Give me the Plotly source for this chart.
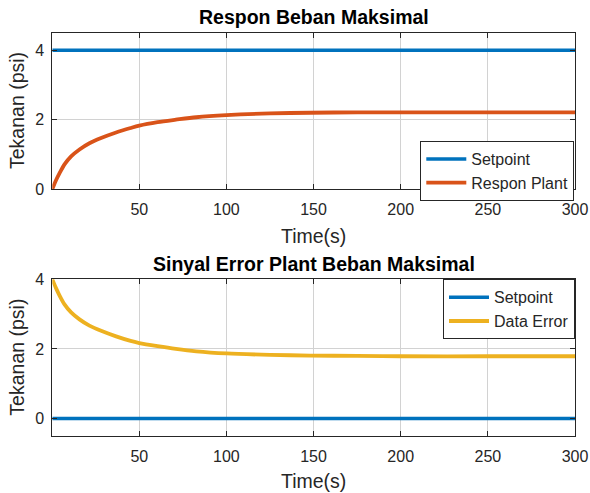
import plotly.graph_objects as go

# Time samples (s) and measured responses
t_resp = [0.1, 1, 2.3, 4.2, 7.1, 10.9, 15.7, 21.4, 28.1, 36.7, 45, 50, 60.5, 71, 82.7, 100, 125, 148, 175, 200, 250, 300]
respon_plant = [0.0, 0.11, 0.26, 0.45, 0.71, 0.94, 1.14, 1.32, 1.47, 1.63, 1.76, 1.83, 1.93, 2.00, 2.07, 2.13, 2.18, 2.20, 2.21, 2.21, 2.21, 2.21]

t_err = [0.1, 1, 2.3, 4.2, 7.1, 10.9, 15.7, 21.4, 28.1, 36.7, 45, 50, 60.5, 71, 82.7, 100, 125, 148, 175, 200, 250, 300]
data_error = [4.0, 3.89, 3.74, 3.54, 3.28, 3.05, 2.85, 2.67, 2.52, 2.36, 2.23, 2.17, 2.08, 2.00, 1.93, 1.87, 1.83, 1.81, 1.80, 1.79, 1.79, 1.79]

t_sp = [0.1, 300]
setpoint_top = [4, 4]
setpoint_bottom = [0, 0]

x_ticks = [50, 100, 150, 200, 250, 300]
y_ticks = [0, 2, 4]

BLUE = "#0072BD"
ORANGE = "#D95319"
YELLOW = "#EDB120"
INK = "#262626"
GRID = "#d2d2d2"
FONT = "Liberation Sans, Arial, sans-serif"

W, H = 590, 493
# axes boxes in pixels: (left, right, top, bottom)
top_box = (52.3, 575, 33, 189)
bot_box = (52.3, 575, 279.3, 436)


def dom_x(b):
    return [b[0] / W, b[1] / W]


def dom_y(b):
    return [1 - b[3] / H, 1 - b[2] / H]


fig = go.Figure()
fig.add_trace(go.Scatter(x=t_sp, y=setpoint_top, mode="lines", name="Setpoint",
                         line=dict(color=BLUE, width=3.5), xaxis="x", yaxis="y", legend="legend"))
fig.add_trace(go.Scatter(x=t_resp, y=respon_plant, mode="lines", name="Respon Plant",
                         line=dict(color=ORANGE, width=3.8, shape="spline", smoothing=0.8),
                         xaxis="x", yaxis="y", legend="legend"))
fig.add_trace(go.Scatter(x=t_sp, y=setpoint_bottom, mode="lines", name="Setpoint",
                         line=dict(color=BLUE, width=3.5), xaxis="x2", yaxis="y2", legend="legend2"))
fig.add_trace(go.Scatter(x=t_err, y=data_error, mode="lines", name="Data Error",
                         line=dict(color=YELLOW, width=3.8, shape="spline", smoothing=0.8),
                         xaxis="x2", yaxis="y2", legend="legend2"))

axis_common = dict(
    showline=True, linecolor=INK, linewidth=1, mirror="allticks",
    ticks="inside", ticklen=5, tickcolor=INK, tickwidth=1,
    showgrid=True, gridcolor=GRID, gridwidth=1, zeroline=False,
    automargin=False,
    tickfont=dict(family=FONT, size=16, color=INK),
)

legend_common = dict(
    xanchor="right", yanchor="top",
    bgcolor="white", bordercolor=INK, borderwidth=1,
    font=dict(family=FONT, size=16, color=INK), tracegroupgap=0,
    itemwidth=40,
)

fig.update_layout(
    template="none",
    width=W, height=H,
    margin=dict(l=0, r=0, t=0, b=0, autoexpand=False),
    paper_bgcolor="white", plot_bgcolor="white",
    font=dict(family=FONT, color=INK),
    xaxis=dict(domain=dom_x(top_box), anchor="y", range=[0.1, 300], tickvals=x_ticks,
               ticklabelstandoff=6, **axis_common),
    yaxis=dict(domain=dom_y(top_box), anchor="x", range=[0, 4.5], tickvals=y_ticks,
               ticklabelstandoff=4, **axis_common),
    xaxis2=dict(domain=dom_x(bot_box), anchor="y2", range=[0.1, 300], tickvals=x_ticks,
                ticklabelstandoff=6, **axis_common),
    yaxis2=dict(domain=dom_y(bot_box), anchor="x2", range=[-0.5, 4], tickvals=y_ticks,
                ticklabelstandoff=4, **axis_common),
    legend=dict(x=574.3 / W, y=1 - 141 / H, **legend_common),
    legend2=dict(x=575 / W, y=1 - 279.3 / H, **legend_common),
    showlegend=True,
)

ann = []
cx = (top_box[0] + top_box[1]) / 2 / W
ann.append(dict(text="<b>Respon Beban Maksimal</b>", x=cx, y=1 - 17 / H, xref="paper", yref="paper",
                showarrow=False, font=dict(family=FONT, size=19.5, color="black"), xanchor="center", yanchor="middle"))
ann.append(dict(text="<b>Sinyal Error Plant Beban Maksimal</b>", x=cx, y=1 - 264 / H, xref="paper", yref="paper",
                showarrow=False, font=dict(family=FONT, size=19.5, color="black"), xanchor="center", yanchor="middle"))
ann.append(dict(text="Time(s)", x=cx, y=1 - 236 / H, xref="paper", yref="paper",
                showarrow=False, font=dict(family=FONT, size=19.5, color=INK), xanchor="center", yanchor="middle"))
ann.append(dict(text="Time(s)", x=cx, y=1 - 481 / H, xref="paper", yref="paper",
                showarrow=False, font=dict(family=FONT, size=19.5, color=INK), xanchor="center", yanchor="middle"))
ann.append(dict(text="Tekanan (psi)", x=17 / W, y=1 - (top_box[2] + top_box[3]) / 2 / H, xref="paper", yref="paper",
                showarrow=False, textangle=-90, font=dict(family=FONT, size=19.5, color=INK),
                xanchor="center", yanchor="middle"))
ann.append(dict(text="Tekanan (psi)", x=17 / W, y=1 - (bot_box[2] + bot_box[3]) / 2 / H, xref="paper", yref="paper",
                showarrow=False, textangle=-90, font=dict(family=FONT, size=19.5, color=INK),
                xanchor="center", yanchor="middle"))
fig.update_layout(annotations=ann)

fig.write_html("out.html")
